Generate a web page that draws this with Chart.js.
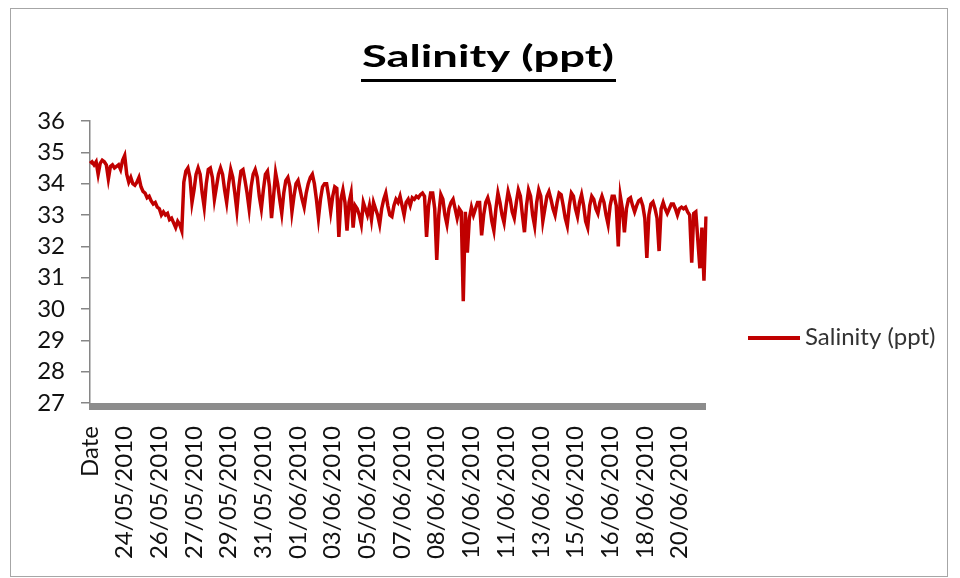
<!DOCTYPE html>
<html>
<head>
<meta charset="utf-8">
<title>Salinity (ppt)</title>
<script src="https://cdn.jsdelivr.net/npm/chart.js@4"></script>
<style>
  html, body { margin: 0; padding: 0; background: #fff; }
  canvas { display: block; }
</style>
</head>
<body>
<canvas id="salinityChart" width="960" height="578"></canvas>
<script>
const seriesName = 'Salinity (ppt)';

// date labels shown on the category axis, one every labelStep readings
const tickLabels = [
  'Date', '24/05/2010', '26/05/2010', '27/05/2010', '29/05/2010', '31/05/2010',
  '01/06/2010', '03/06/2010', '05/06/2010', '07/06/2010', '08/06/2010',
  '10/06/2010', '11/06/2010', '13/06/2010', '15/06/2010', '16/06/2010',
  '18/06/2010', '20/06/2010'
];
const labelStep = 17;

const yRange = [27, 36];

// readings
const salinity = [
  34.65, 34.7, 34.6, 34.7, 34.3, 34.65, 34.75, 34.7, 34.6, 34.15,
  34.55, 34.6, 34.5, 34.55, 34.6, 34.45, 34.75, 34.9, 34.3, 34.05,
  34.2, 34.0, 33.95, 34.05, 34.2, 33.9, 33.75, 33.7, 33.55, 33.6,
  33.45, 33.35, 33.4, 33.25, 33.2, 33.0, 33.1, 33.0, 33.05, 32.85,
  32.9, 32.75, 32.6, 32.8, 32.7, 32.5, 34.05, 34.4, 34.5, 34.2,
  33.4, 33.8, 34.3, 34.5, 34.3, 33.7, 33.25, 34.0, 34.45, 34.5,
  34.2, 33.5, 33.9, 34.3, 34.5, 34.3, 33.8, 33.4, 34.0, 34.45,
  34.2, 33.7, 33.15, 33.9, 34.4, 34.45, 34.1, 33.7, 33.2, 33.9,
  34.3, 34.45, 34.2, 33.6, 33.2, 33.8, 34.3, 34.4, 33.9, 32.9,
  33.6, 34.35, 34.0, 33.5, 33.05, 33.7, 34.1, 34.2, 33.9, 33.1,
  33.6, 34.0, 34.1, 33.8, 33.5, 33.25, 33.7, 34.0, 34.2, 34.3,
  34.0, 33.5, 32.9, 33.5, 33.9, 34.0, 34.0, 33.6, 33.1, 33.6,
  33.9, 33.85, 32.3, 33.5, 33.8, 33.4, 32.5, 33.4, 33.7, 32.6,
  33.3, 33.2, 33.0, 32.7, 33.4, 33.2, 33.0, 33.3, 32.85, 33.4,
  33.2, 33.0, 32.7, 33.2, 33.5, 33.7, 33.3, 33.0, 32.95, 33.3,
  33.5, 33.4, 33.6, 33.3, 33.0, 33.4, 33.5, 33.3, 33.55, 33.5,
  33.6, 33.55, 33.65, 33.7, 33.6, 32.3, 33.3, 33.7, 33.7, 33.2,
  31.57, 33.0, 33.65, 33.5, 33.0, 32.7, 33.2, 33.4, 33.5, 33.2,
  32.9, 33.2, 33.1, 30.25, 33.1, 31.8, 32.9, 33.25, 33.0, 33.2,
  33.4, 33.4, 32.35, 33.0, 33.4, 33.55, 33.3, 32.8, 32.5, 33.2,
  33.7, 33.4, 33.0, 32.75, 33.3, 33.75, 33.5, 33.1, 32.9, 33.4,
  33.8, 33.6, 33.0, 32.45, 33.3, 33.8, 33.6, 33.0, 32.65, 33.4,
  33.8, 33.6, 32.8, 33.2, 33.6, 33.75, 33.5, 33.2, 33.0, 33.4,
  33.7, 33.65, 33.3, 32.9, 32.65, 33.3, 33.7, 33.6, 33.2, 32.95,
  33.4, 33.65, 33.3, 32.8, 32.6, 33.3, 33.6, 33.5, 33.2, 33.05,
  33.4, 33.6, 33.4, 33.0, 32.7, 33.3, 33.6, 33.6, 33.3, 32.0,
  33.6, 33.2, 32.45, 33.2, 33.5, 33.55, 33.3, 33.1, 33.3, 33.45,
  33.5, 33.3, 32.9, 31.63, 33.0, 33.35, 33.42, 33.2, 32.9, 31.85,
  33.2, 33.4, 33.2, 33.05, 33.2, 33.35, 33.35, 33.2, 33.0, 33.2,
  33.25, 33.2, 33.25, 33.1, 33.0, 31.48, 33.05, 33.1, 32.2, 31.3,
  32.6, 30.9, 32.95
];

const categories = salinity.map((_, i) => i);

const LINE_RED = '#c00000';
const FONT = 'Lato, "Open Sans", sans-serif';

// excel-ish extras: frame, underlined title, grey floor bar, legend on the right
const excelDecor = {
  id: 'excelDecor',
  beforeDraw(chart) {
    const ctx = chart.ctx;
    ctx.save();
    ctx.fillStyle = '#fff';
    ctx.fillRect(0, 0, chart.width, chart.height);
    ctx.strokeStyle = '#a6a6a6';
    ctx.lineWidth = 1;
    ctx.strokeRect(10.5, 8.5, 937, 568);
    ctx.restore();
  },
  afterDraw(chart) {
    const { ctx, chartArea: a } = chart;
    ctx.save();

    ctx.fillStyle = '#8c8c8c';
    ctx.fillRect(a.left - 1, a.bottom, a.right - a.left + 1, 7);

    // title
    ctx.fillStyle = '#000';
    ctx.font = 'bold 31px ' + FONT;
    ctx.textAlign = 'center';
    ctx.textBaseline = 'alphabetic';
    const w = ctx.measureText(seriesName).width;
    ctx.save();
    ctx.translate(488, 67);
    ctx.scale(252 / w, 1);
    ctx.fillText(seriesName, 0, 0);
    ctx.restore();
    ctx.fillRect(361, 79, 255, 3);

    // legend
    ctx.strokeStyle = LINE_RED;
    ctx.lineWidth = 4;
    ctx.beginPath();
    ctx.moveTo(748, 338);
    ctx.lineTo(800, 338);
    ctx.stroke();
    ctx.fillStyle = '#333';
    ctx.font = '24px ' + FONT;
    ctx.textAlign = 'left';
    ctx.fillText(chart.data.datasets[0].label, 805, 345);

    ctx.restore();
  }
};

new Chart(document.getElementById('salinityChart'), {
  type: 'line',
  data: {
    labels: categories,
    datasets: [{
      label: seriesName,
      data: salinity,
      borderColor: LINE_RED,
      borderWidth: 3.5,
      pointRadius: 0,
      tension: 0,
      fill: false
    }]
  },
  options: {
    responsive: false,
    animation: false,
    layout: { padding: { left: 0, top: 121, right: 254, bottom: 0 } },
    plugins: {
      legend: { display: false },
      title: { display: false },
      tooltip: { enabled: false }
    },
    scales: {
      x: {
        type: 'category',
        offset: false,
        grid: { display: false, drawTicks: false },
        border: { display: false },
        ticks: {
          autoSkip: false,
          minRotation: 90,
          maxRotation: 90,
          padding: 23,
          color: '#111',
          font: { family: FONT, size: 24 },
          callback: (v, i) => (i % labelStep === 0 ? tickLabels[i / labelStep] : '')
        },
        afterFit(s) { s.height = 175; }
      },
      y: {
        min: yRange[0],
        max: yRange[1],
        ticks: {
          stepSize: 1,
          autoSkip: false,
          padding: 16,
          color: '#111',
          font: { family: FONT, size: 24 }
        },
        grid: {
          drawOnChartArea: false,
          drawTicks: true,
          tickLength: 9,
          color: '#868686',
          lineWidth: 1.5
        },
        border: { display: true, color: '#868686', width: 1.5 },
        afterFit(s) { s.width = 90; }
      }
    }
  },
  plugins: [excelDecor]
});
</script>
</body>
</html>
